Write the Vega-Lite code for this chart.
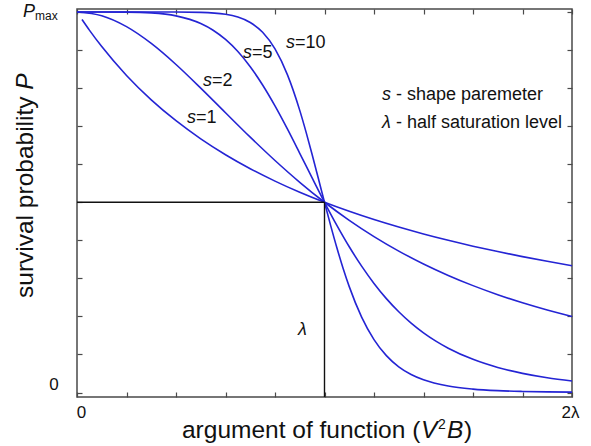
{
  "$schema": "https://vega.github.io/schema/vega-lite/v6.json",
  "width": 495,
  "height": 388,
  "autosize": {"type": "none"},
  "padding": {"left": 77, "top": 9, "right": 19, "bottom": 49},
  "background": "white",
  "config": {
    "view": {"stroke": "#4a4a4a", "strokeWidth": 1.5},
    "axis": {"grid": false, "labels": false, "domain": false, "title": null, "tickSize": -5, "tickColor": "#4a4a4a", "tickWidth": 1.2},
    "text": {"font": "Liberation Sans", "color": "#111111"}
  },
  "datasets": {
    "curves": [
      {"s": 1, "x": 0.02, "P": 0.9804}, {"s": 1, "x": 0.05, "P": 0.9524}, {"s": 1, "x": 0.1, "P": 0.9091}, {"s": 1, "x": 0.2, "P": 0.8333}, {"s": 1, "x": 0.3, "P": 0.7692}, {"s": 1, "x": 0.4, "P": 0.7143}, {"s": 1, "x": 0.5, "P": 0.6667}, {"s": 1, "x": 0.6, "P": 0.625}, {"s": 1, "x": 0.7, "P": 0.5882}, {"s": 1, "x": 0.8, "P": 0.5556}, {"s": 1, "x": 0.9, "P": 0.5263}, {"s": 1, "x": 1.0, "P": 0.5}, {"s": 1, "x": 1.1, "P": 0.4762}, {"s": 1, "x": 1.2, "P": 0.4545}, {"s": 1, "x": 1.3, "P": 0.4348}, {"s": 1, "x": 1.4, "P": 0.4167}, {"s": 1, "x": 1.5, "P": 0.4}, {"s": 1, "x": 1.6, "P": 0.3846}, {"s": 1, "x": 1.7, "P": 0.3704}, {"s": 1, "x": 1.8, "P": 0.3571}, {"s": 1, "x": 1.9, "P": 0.3448}, {"s": 1, "x": 2.0, "P": 0.3333},
      {"s": 2, "x": 0.0, "P": 1.0}, {"s": 2, "x": 0.1, "P": 0.9901}, {"s": 2, "x": 0.2, "P": 0.9615}, {"s": 2, "x": 0.3, "P": 0.9174}, {"s": 2, "x": 0.4, "P": 0.8621}, {"s": 2, "x": 0.5, "P": 0.8}, {"s": 2, "x": 0.6, "P": 0.7353}, {"s": 2, "x": 0.7, "P": 0.6711}, {"s": 2, "x": 0.8, "P": 0.6098}, {"s": 2, "x": 0.9, "P": 0.5525}, {"s": 2, "x": 1.0, "P": 0.5}, {"s": 2, "x": 1.1, "P": 0.4525}, {"s": 2, "x": 1.2, "P": 0.4098}, {"s": 2, "x": 1.3, "P": 0.3717}, {"s": 2, "x": 1.4, "P": 0.3378}, {"s": 2, "x": 1.5, "P": 0.3077}, {"s": 2, "x": 1.6, "P": 0.2809}, {"s": 2, "x": 1.7, "P": 0.2571}, {"s": 2, "x": 1.8, "P": 0.2358}, {"s": 2, "x": 1.9, "P": 0.2169}, {"s": 2, "x": 2.0, "P": 0.2},
      {"s": 5, "x": 0.0, "P": 1.0}, {"s": 5, "x": 0.1, "P": 1.0}, {"s": 5, "x": 0.2, "P": 0.9997}, {"s": 5, "x": 0.3, "P": 0.9976}, {"s": 5, "x": 0.4, "P": 0.9899}, {"s": 5, "x": 0.5, "P": 0.9697}, {"s": 5, "x": 0.55, "P": 0.9521}, {"s": 5, "x": 0.6, "P": 0.9278}, {"s": 5, "x": 0.65, "P": 0.8961}, {"s": 5, "x": 0.7, "P": 0.8561}, {"s": 5, "x": 0.75, "P": 0.8082}, {"s": 5, "x": 0.8, "P": 0.7532}, {"s": 5, "x": 0.85, "P": 0.6927}, {"s": 5, "x": 0.9, "P": 0.6287}, {"s": 5, "x": 0.95, "P": 0.5638}, {"s": 5, "x": 1.0, "P": 0.5}, {"s": 5, "x": 1.05, "P": 0.4393}, {"s": 5, "x": 1.1, "P": 0.383}, {"s": 5, "x": 1.15, "P": 0.3321}, {"s": 5, "x": 1.2, "P": 0.2867}, {"s": 5, "x": 1.25, "P": 0.2468}, {"s": 5, "x": 1.3, "P": 0.2122}, {"s": 5, "x": 1.35, "P": 0.1824}, {"s": 5, "x": 1.4, "P": 0.1568}, {"s": 5, "x": 1.45, "P": 0.135}, {"s": 5, "x": 1.5, "P": 0.1164}, {"s": 5, "x": 1.6, "P": 0.0871}, {"s": 5, "x": 1.7, "P": 0.0658}, {"s": 5, "x": 1.8, "P": 0.0503}, {"s": 5, "x": 1.9, "P": 0.0388}, {"s": 5, "x": 2.0, "P": 0.0303},
      {"s": 10, "x": 0.0, "P": 1.0}, {"s": 10, "x": 0.2, "P": 1.0}, {"s": 10, "x": 0.4, "P": 0.9999}, {"s": 10, "x": 0.5, "P": 0.999}, {"s": 10, "x": 0.6, "P": 0.994}, {"s": 10, "x": 0.65, "P": 0.9867}, {"s": 10, "x": 0.7, "P": 0.9725}, {"s": 10, "x": 0.75, "P": 0.9467}, {"s": 10, "x": 0.8, "P": 0.903}, {"s": 10, "x": 0.85, "P": 0.8355}, {"s": 10, "x": 0.9, "P": 0.7415}, {"s": 10, "x": 0.925, "P": 0.6856}, {"s": 10, "x": 0.95, "P": 0.6255}, {"s": 10, "x": 0.975, "P": 0.563}, {"s": 10, "x": 1.0, "P": 0.5}, {"s": 10, "x": 1.025, "P": 0.4386}, {"s": 10, "x": 1.05, "P": 0.3804}, {"s": 10, "x": 1.075, "P": 0.3267}, {"s": 10, "x": 1.1, "P": 0.2783}, {"s": 10, "x": 1.15, "P": 0.1982}, {"s": 10, "x": 1.2, "P": 0.1391}, {"s": 10, "x": 1.25, "P": 0.097}, {"s": 10, "x": 1.3, "P": 0.0676}, {"s": 10, "x": 1.35, "P": 0.0474}, {"s": 10, "x": 1.4, "P": 0.0334}, {"s": 10, "x": 1.5, "P": 0.017}, {"s": 10, "x": 1.6, "P": 0.009}, {"s": 10, "x": 1.7, "P": 0.0049}, {"s": 10, "x": 1.8, "P": 0.0028}, {"s": 10, "x": 1.9, "P": 0.0016}, {"s": 10, "x": 2.0, "P": 0.001}
    ],
    "refs": [
      {"x1": 1.0, "y1": -0.0118, "x2": 1.0, "y2": 0.5},
      {"x1": 0.0, "y1": 0.5, "x2": 1.0, "y2": 0.5}
    ],
    "sym": [
      {"x": 0.8444, "y": 0.9185, "t": "s"},
      {"x": 0.6707, "y": 0.8922, "t": "s"},
      {"x": 0.5091, "y": 0.8187, "t": "s"},
      {"x": 0.4444, "y": 0.7227, "t": "s"},
      {"x": 1.2323, "y": 0.7819, "t": "s"},
      {"x": 1.2323, "y": 0.7083, "t": "λ"},
      {"x": 0.8929, "y": 0.1643, "t": "λ"},
      {"x": -0.2182, "y": 1.0013, "t": "P"}
    ],
    "eq": [
      {"x": 0.8808, "y": 0.9185, "t": "=10"},
      {"x": 0.7071, "y": 0.8922, "t": "=5"},
      {"x": 0.5455, "y": 0.8187, "t": "=2"},
      {"x": 0.4808, "y": 0.7227, "t": "=1"},
      {"x": 1.2889, "y": 0.7819, "t": "- shape paremeter"},
      {"x": 1.2889, "y": 0.7083, "t": "- half saturation level"}
    ],
    "ticklab": [
      {"x": 0.0182, "y": -0.0539, "t": "0"},
      {"x": 1.9939, "y": -0.0539, "t": "2λ"},
      {"x": -0.0929, "y": 0.021, "t": "0"}
    ],
    "sub": [
      {"x": -0.1697, "y": 0.9908, "t": "max"}
    ],
    "xtitle": [
      {"x": 0.4242, "y": -0.1196, "t": "argument of function ("},
      {"x": 1.5636, "y": -0.1196, "t": ")"}
    ],
    "xtitleit": [
      {"x": 1.3899, "y": -0.1196, "t": "V"},
      {"x": 1.4949, "y": -0.1196, "t": "B"}
    ],
    "sup": [
      {"x": 1.4586, "y": -0.0959, "t": "2"}
    ],
    "ytitle": [
      {"x": -0.1778, "y": 0.2484, "t": "survival probability"}
    ],
    "ytitleit": [
      {"x": -0.1778, "y": 0.7957, "t": "P"}
    ]
  },
  "layer": [
    {
      "data": {"name": "curves"},
      "mark": {"type": "line", "color": "#2424d4", "strokeWidth": 1.6, "interpolate": "monotone"},
      "encoding": {
        "x": {"field": "x", "type": "quantitative", "scale": {"domain": [0, 2], "nice": false, "zero": false},
              "axis": {"orient": "bottom", "values": [0, 0.2, 0.4, 0.6, 0.8, 1, 1.2, 1.4, 1.6, 1.8, 2]}},
        "y": {"field": "P", "type": "quantitative", "scale": {"domain": [-0.0118, 1.0079], "nice": false, "zero": false},
              "axis": {"orient": "left", "values": [0, 0.1, 0.2, 0.3, 0.4, 0.5, 0.6, 0.7, 0.8, 0.9, 1]}},
        "detail": {"field": "s", "type": "nominal"}
      }
    },
    {
      "data": {"name": "refs"},
      "mark": {"type": "rule", "color": "#111111", "strokeWidth": 1.4},
      "encoding": {
        "x": {"field": "x1", "type": "quantitative",
              "axis": {"orient": "top", "values": [0, 0.2, 0.4, 0.6, 0.8, 1, 1.2, 1.4, 1.6, 1.8, 2]}},
        "x2": {"field": "x2"},
        "y": {"field": "y1", "type": "quantitative",
              "axis": {"orient": "right", "values": [0, 0.1, 0.2, 0.3, 0.4, 0.5, 0.6, 0.7, 0.8, 0.9, 1]}},
        "y2": {"field": "y2"}
      }
    },
    {
      "data": {"name": "sym"},
      "mark": {"type": "text", "fontSize": 18, "fontStyle": "italic", "align": "left", "baseline": "middle"},
      "encoding": {
        "x": {"field": "x", "type": "quantitative", "axis": null},
        "y": {"field": "y", "type": "quantitative", "axis": null},
        "text": {"field": "t"}
      }
    },
    {
      "data": {"name": "eq"},
      "mark": {"type": "text", "fontSize": 18, "align": "left", "baseline": "middle"},
      "encoding": {
        "x": {"field": "x", "type": "quantitative", "axis": null},
        "y": {"field": "y", "type": "quantitative", "axis": null},
        "text": {"field": "t"}
      }
    },
    {
      "data": {"name": "ticklab"},
      "mark": {"type": "text", "fontSize": 17, "align": "center", "baseline": "middle"},
      "encoding": {
        "x": {"field": "x", "type": "quantitative", "axis": null},
        "y": {"field": "y", "type": "quantitative", "axis": null},
        "text": {"field": "t"}
      }
    },
    {
      "data": {"name": "sub"},
      "mark": {"type": "text", "fontSize": 12, "align": "left", "baseline": "middle"},
      "encoding": {
        "x": {"field": "x", "type": "quantitative", "axis": null},
        "y": {"field": "y", "type": "quantitative", "axis": null},
        "text": {"field": "t"}
      }
    },
    {
      "data": {"name": "xtitle"},
      "mark": {"type": "text", "fontSize": 24.5, "align": "left", "baseline": "alphabetic"},
      "encoding": {
        "x": {"field": "x", "type": "quantitative", "axis": null},
        "y": {"field": "y", "type": "quantitative", "axis": null},
        "text": {"field": "t"}
      }
    },
    {
      "data": {"name": "xtitleit"},
      "mark": {"type": "text", "fontSize": 24.5, "fontStyle": "italic", "align": "left", "baseline": "alphabetic"},
      "encoding": {
        "x": {"field": "x", "type": "quantitative", "axis": null},
        "y": {"field": "y", "type": "quantitative", "axis": null},
        "text": {"field": "t"}
      }
    },
    {
      "data": {"name": "sup"},
      "mark": {"type": "text", "fontSize": 14, "align": "left", "baseline": "alphabetic"},
      "encoding": {
        "x": {"field": "x", "type": "quantitative", "axis": null},
        "y": {"field": "y", "type": "quantitative", "axis": null},
        "text": {"field": "t"}
      }
    },
    {
      "data": {"name": "ytitle"},
      "mark": {"type": "text", "fontSize": 24.5, "angle": 270, "align": "left", "baseline": "alphabetic"},
      "encoding": {
        "x": {"field": "x", "type": "quantitative", "axis": null},
        "y": {"field": "y", "type": "quantitative", "axis": null},
        "text": {"field": "t"}
      }
    },
    {
      "data": {"name": "ytitleit"},
      "mark": {"type": "text", "fontSize": 24.5, "fontStyle": "italic", "angle": 270, "align": "left", "baseline": "alphabetic"},
      "encoding": {
        "x": {"field": "x", "type": "quantitative", "axis": null},
        "y": {"field": "y", "type": "quantitative", "axis": null},
        "text": {"field": "t"}
      }
    }
  ],
  "resolve": {"axis": {"x": "independent", "y": "independent"}}
}
